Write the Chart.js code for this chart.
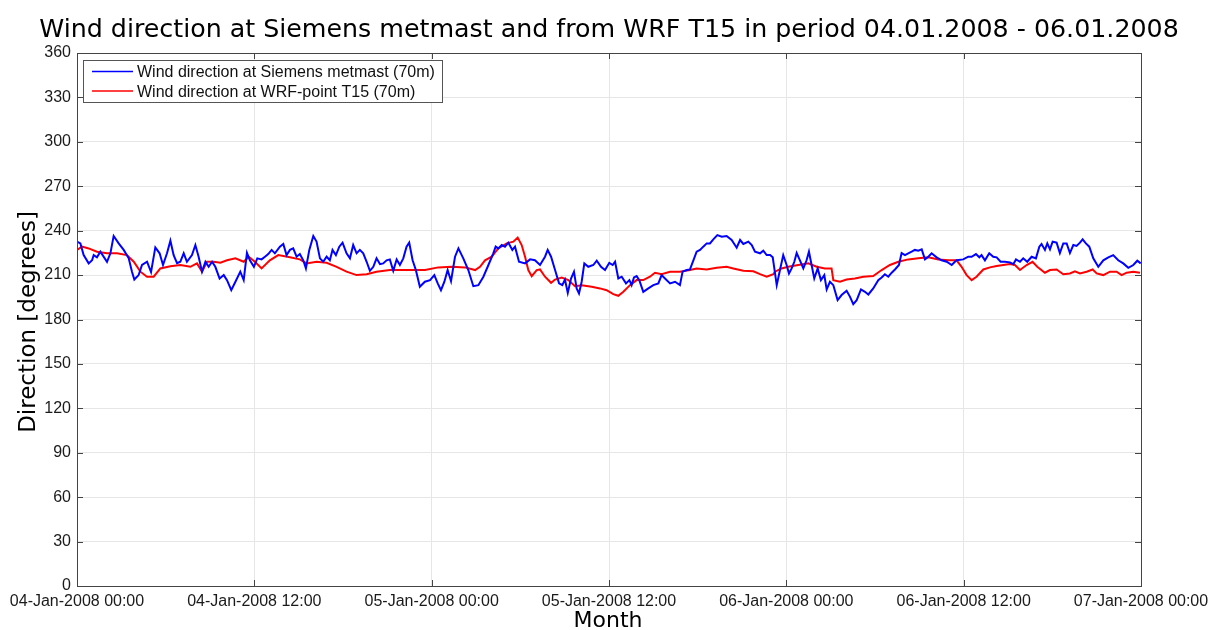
<!DOCTYPE html>
<html>
<head>
<meta charset="utf-8">
<script src="https://cdn.jsdelivr.net/npm/chart.js@4"></script>
<style>
body { margin: 0; background: #fff; }
#wrap { width: 1212px; height: 630px; }
</style>
</head>
<body>
<div id="wrap"><canvas id="chart"></canvas></div>
<script>
// hours since 04-Jan-2008 00:00
const xTickLabels = ['04-Jan-2008 00:00', '04-Jan-2008 12:00', '05-Jan-2008 00:00', '05-Jan-2008 12:00',
                     '06-Jan-2008 00:00', '06-Jan-2008 12:00', '07-Jan-2008 00:00'];
const seriesNames = ['Wind direction at Siemens metmast (70m)', 'Wind direction at WRF-point T15 (70m)'];

const mastHours = [0.00, 0.23, 0.45, 0.79, 1.02, 1.13, 1.35, 1.58, 2.03, 2.26, 2.48, 2.82, 3.16, 3.50, 3.72, 3.88,
  4.17, 4.40, 4.74, 5.01, 5.30, 5.59, 5.82, 6.09, 6.32, 6.54, 6.77, 6.99, 7.22, 7.44, 7.78, 8.01, 8.23, 8.46,
  8.69, 8.91, 9.14, 9.36, 9.65, 9.93, 10.15, 10.44, 10.72, 11.05, 11.28, 11.50,
  11.70, 11.97, 12.20, 12.49, 12.72, 12.94, 13.17, 13.39, 13.73, 13.96, 14.18, 14.41, 14.63, 14.86, 15.08, 15.31,
  15.49, 15.72, 15.99, 16.21, 16.44, 16.66, 16.89, 17.11, 17.29, 17.52, 17.75, 17.97, 18.24, 18.47, 18.69, 18.92,
  19.14, 19.37, 19.60, 19.82, 20.05, 20.27, 20.50, 20.72, 20.95, 21.17, 21.40, 21.63, 21.85, 22.08, 22.30, 22.48,
  22.71, 22.93, 23.20, 23.54,
  23.89, 24.18, 24.41, 24.63, 24.86, 25.08, 25.31, 25.58, 25.81, 26.14, 26.48, 26.82, 27.16, 27.50, 27.84, 28.17,
  28.33, 28.51, 28.74, 28.96, 29.19, 29.46, 29.64, 29.91, 30.32, 30.66, 30.99, 31.33, 31.67, 31.85, 32.08, 32.35,
  32.62, 32.84, 33.02, 33.21, 33.43, 33.63, 33.81, 33.97, 34.15, 34.33, 34.60, 34.94, 35.17, 35.46, 35.73,
  36.02, 36.25, 36.41, 36.63, 36.86, 37.15, 37.38, 37.53, 37.69, 37.87, 38.05, 38.32, 38.66, 39.00, 39.34, 39.56,
  39.79, 40.13, 40.47, 40.80, 40.98, 41.26, 41.48, 41.71, 41.93, 42.16, 42.38, 42.61, 42.83, 43.06, 43.33, 43.63,
  43.96, 44.30, 44.64, 44.87, 45.09, 45.43, 45.66, 45.88, 46.22, 46.44, 46.67, 46.90, 47.08, 47.35,
  47.57, 47.79, 48.02, 48.18, 48.36, 48.54, 48.70, 48.92, 49.15, 49.37, 49.53, 49.71, 49.89, 50.12, 50.34, 50.57,
  50.73, 50.95, 51.18, 51.47, 51.74, 52.08, 52.31, 52.53, 52.76, 53.05, 53.32, 53.55, 53.88, 54.22, 54.45, 54.67,
  54.90, 55.13, 55.35, 55.62, 55.80, 56.03, 56.25, 56.48, 56.70, 56.93, 57.16, 57.38, 57.61, 57.83, 58.17, 58.51,
  58.85, 59.19, 59.41,
  59.52, 59.97, 60.31, 60.54, 60.83, 61.06, 61.21, 61.44, 61.73, 62.00, 62.23, 62.50, 62.79, 63.13, 63.36, 63.54,
  63.81, 64.03, 64.30, 64.60, 64.89, 65.12, 65.27, 65.50, 65.66, 65.84, 66.02, 66.29, 66.51, 66.74, 66.97, 67.19,
  67.42, 67.64, 67.87, 68.05, 68.27, 68.50, 68.77, 69.11, 69.45, 69.79, 70.12, 70.46, 70.80, 71.14, 71.48, 71.75,
  71.98];
const mastDeg = [232.6, 231.4, 223.5, 217.9, 220, 223.5, 222, 225.8, 219, 224.7, 236.4, 231.4, 227, 221.3, 212.3, 207,
  210, 216.8, 219, 212, 228.7, 224.7, 216.8, 224.7, 233.2, 223.5, 218, 219, 224.7, 219, 223.5, 230.3, 222.4, 212.3,
  219, 215.6, 219, 215.6, 207.7, 210, 206.6, 199.8, 205.5, 212.3, 206.6, 225,
  220, 215.6, 221.3, 220.6, 222.4, 224.2, 227, 224.7, 229.2, 231, 223.5, 227, 228, 222.4, 224.2, 220,
  214.5, 227, 236.4, 232.6, 221.3, 219, 222.4, 220, 227, 223.5, 229.2, 231.9, 224.7, 221.3, 230.3, 224.7,
  227, 224.7, 219, 212.9, 215.6, 221.3, 217.4, 217.9, 220, 220.6, 212.9, 220.6, 216.8, 221.3, 229.2, 231.9,
  220, 213.4, 202.1, 205.5,
  206.6, 210, 204.4, 199.8, 205.5, 213.4, 205.9, 222.4, 228, 221.3, 213.4, 202.5, 203.2, 208.9, 216.8, 224.7,
  229.2, 228, 230.3, 229.2, 231.9, 227, 229.2, 219, 217.9, 220.6, 220, 216.8, 222.4, 227, 222.4, 213.4,
  204.4, 203.2, 207, 198, 207.7, 212.3, 201, 197.6, 205.5, 217.9, 215.6, 216.8, 219.7, 215.6, 213.4,
  218.3, 216.8, 219, 207.7, 208.9, 204.4, 206.6, 203.2, 208.4, 209.3, 206.6, 198.7, 201, 203.2, 204.4, 210,
  207.7, 204.4, 205.5, 203.2, 212.3, 213.4, 213.8, 220, 225.8, 227, 229.2, 231.4, 231.4, 234.1, 237, 235.9,
  236.4, 233.7, 228.5, 233.7, 231, 232.6, 230.3, 225.8, 224.7, 226.5, 223.5, 223.5, 222, 203.2,
  213.4, 223.5, 216.8, 211.1, 214.5, 219, 224.9, 220, 214.5, 220, 225.8, 216.8, 207.7, 214.5, 206.6, 210,
  200.3, 205.5, 203.2, 193.1, 196.5, 199.4, 195.3, 190.4, 193.1, 200.3, 198.7, 196.9, 201, 206.6, 208.4, 210.6,
  208.9, 211.6, 213.8, 216.8, 224.9, 223.5, 224.7, 225.8, 227, 226.5, 227.4, 220.6, 222.4, 224.7, 222, 220,
  219, 216.8, 219,
  220, 220.6, 222.4, 222.4, 224.2, 222, 223.5, 220, 224.7, 222.4, 222, 219, 219, 218.6, 217.4, 220.6,
  219, 221.3, 219, 222.4, 221.3, 229.2, 231, 227, 231.4, 227.4, 232.6, 231.9, 224.9, 231.4, 231.4, 224.9,
  230.3, 229.7, 231.9, 234.1, 231.4, 229.2, 221.3, 215.6, 220, 222, 223.5, 220, 217.9, 214.9, 216.8, 219.7,
  217.9];

const wrfHours = [0.00, 0.34, 0.79, 1.35, 2.03, 2.71, 3.38, 3.84, 4.29, 4.74, 5.19, 5.64, 6.32, 6.99, 7.67, 8.12,
  8.46, 8.80, 9.25, 9.70, 10.15, 10.72, 11.28, 11.62,
  12.04, 12.49, 13.05, 13.62, 14.41, 15.08, 15.53, 16.21, 16.89, 17.57, 18.24, 18.92, 19.60, 20.27, 21.17, 22.08,
  22.98, 23.55, 24.45, 25.35, 26.26, 26.94, 27.27, 27.61, 28.06, 28.51, 29.08, 29.53, 29.82, 30.09, 30.32, 30.54,
  30.77, 31.11, 31.33, 31.67, 32.08, 32.35, 32.80, 33.25, 33.70, 34.15, 34.83, 35.39,
  35.84, 36.29, 36.63, 36.97, 37.42, 37.87, 38.32, 38.77, 39.11, 39.56, 40.13, 40.80, 41.48, 41.93, 42.61, 43.29,
  43.96, 44.41, 45.09, 45.77, 46.22, 46.67, 47.12, 47.23, 47.68, 48.13, 48.81, 49.49, 50.05, 50.61, 51.06, 51.18,
  51.63, 52.08, 52.64, 53.21, 53.88, 54.45, 55.01, 55.58, 56.25, 56.93, 57.61, 58.29, 58.96,
  59.52, 59.86, 60.20, 60.54, 60.87, 61.33, 61.78, 62.23, 62.68, 63.13, 63.47, 63.81, 64.26, 64.66, 64.98, 65.50,
  65.84, 66.29, 66.74, 67.19, 67.53, 67.87, 68.32, 68.73, 69.00, 69.45, 69.90, 70.35, 70.69, 71.03, 71.48, 71.93];
const wrfDeg = [227, 229.2, 228, 225.8, 224.7, 224.7, 223.5, 219, 212.3, 208.9, 208.9, 214.5, 216, 216.8, 215.6, 217.9,
  212.3, 219, 219, 218.3, 220, 221.3, 219, 222.4,
  219, 214.5, 220, 223.5, 222, 220.6, 217.9, 219, 218.3, 215.6, 212.3, 210, 210.6, 212.3, 213.4, 213.4,
  213.4, 213.4, 215.2, 215.6, 215.2, 213.4, 215.6, 220, 222.4, 228, 231.4, 232.6, 235.3, 230.3, 222.4, 213.4,
  209.3, 213.4, 213.8, 208.9, 204.8, 207, 208.4, 206.6, 202.5, 203.2, 202.1, 201,
  199.8, 197.1, 196, 198.7, 203.2, 206.6, 206.6, 208.9, 211.6, 210.6, 212.3, 212.3, 213.4, 214.5, 213.8, 214.9,
  215.6, 214.5, 212.9, 212.6, 210.6, 208.9, 210.6, 212.3, 214.5, 215.6, 216.8, 217.9, 215.6, 214.5, 214.5, 206.6,
  205.5, 207, 207.7, 208.9, 209.4, 213.4, 216.8, 219, 220.6, 221.3, 222, 220.6, 220,
  220, 215.6, 210, 206.6, 208.9, 213.8, 215.2, 216.1, 216.8, 217.4, 216.8, 213.4, 216.8, 219, 215.6, 211.6,
  213.4, 213.8, 210.6, 211.1, 212.6, 211.1, 212.3, 213.8, 211.1, 210, 212.3, 212.3, 210, 211.6, 212.3, 211.6];

const chartTitle = 'Wind direction at Siemens metmast and from WRF T15 in period 04.01.2008 - 06.01.2008';
const xTitle = 'Month';
const yTitle = 'Direction [degrees]';

function pairs(xs, ys) {
  return xs.map((x, i) => ({ x: x, y: ys[i] }));
}

// frame, inside ticks, legend box and titles the matlab way
const matlabLook = {
  id: 'matlabLook',
  afterDraw(chart) {
    const ctx = chart.ctx;
    const a = chart.chartArea;
    const xs = chart.scales.x, ys = chart.scales.y;
    ctx.save();

    // box round the axes
    ctx.strokeStyle = '#444';
    ctx.lineWidth = 1;
    ctx.strokeRect(Math.round(a.left) + 0.5, Math.round(a.top) + 0.5,
                   Math.round(a.right - a.left), Math.round(a.bottom - a.top));

    // tick marks inside
    ctx.beginPath();
    ys.ticks.forEach(t => {
      const y = Math.round(ys.getPixelForValue(t.value)) + 0.5;
      ctx.moveTo(a.left, y); ctx.lineTo(a.left + 6, y);
      ctx.moveTo(a.right, y); ctx.lineTo(a.right - 6, y);
    });
    xs.ticks.forEach(t => {
      const x = Math.round(xs.getPixelForValue(t.value)) + 0.5;
      ctx.moveTo(x, a.bottom); ctx.lineTo(x, a.bottom - 6);
      ctx.moveTo(x, a.top); ctx.lineTo(x, a.top + 6);
    });
    ctx.stroke();

    // legend
    const lx = 83.5, ly = 60.5;
    ctx.fillStyle = '#fff';
    ctx.fillRect(lx, ly, 359, 42);
    ctx.strokeStyle = '#555';
    ctx.strokeRect(lx, ly, 359, 42);
    ctx.font = '16px "Liberation Sans", Arial, sans-serif';
    ctx.textBaseline = 'alphabetic';
    ctx.textAlign = 'left';
    chart.data.datasets.forEach((ds, i) => {
      const yy = 71.5 + i * 19.5;
      ctx.strokeStyle = ds.borderColor;
      ctx.lineWidth = 1.5;
      ctx.beginPath();
      ctx.moveTo(92, yy); ctx.lineTo(133, yy);
      ctx.stroke();
      ctx.fillStyle = '#111';
      ctx.fillText(ds.label, 137, yy + 5.8);
    });

    // main title, fitted to the width of the original
    ctx.fillStyle = '#000';
    ctx.textAlign = 'center';
    let size = 24;
    ctx.font = size + 'px "DejaVu Sans", sans-serif';
    size = size * 1138 / ctx.measureText(chartTitle).width;
    ctx.font = size.toFixed(1) + 'px "DejaVu Sans", sans-serif';
    ctx.fillText(chartTitle, 609, 37);

    // axis titles
    ctx.font = '22px "DejaVu Sans", sans-serif';
    ctx.fillText(xTitle, 608, 627);
    ctx.translate(35, 322);
    ctx.rotate(-Math.PI / 2);
    ctx.font = '23px "DejaVu Sans", sans-serif';
    ctx.fillText(yTitle, 0, 0);

    ctx.restore();
  }
};

const tickFont = { family: '"Liberation Sans", Arial, sans-serif', size: 16 };

new Chart(document.getElementById('chart'), {
  type: 'line',
  data: {
    datasets: [
      { label: seriesNames[0], data: pairs(mastHours, mastDeg), borderColor: '#0000ff', borderWidth: 2 },
      { label: seriesNames[1], data: pairs(wrfHours, wrfDeg), borderColor: '#ff0000', borderWidth: 2 }
    ]
  },
  options: {
    responsive: true,
    maintainAspectRatio: false,
    animation: false,
    elements: { point: { radius: 0 }, line: { tension: 0, fill: false } },
    layout: { padding: { top: 53, right: 71, left: 0, bottom: 0 } },
    plugins: { legend: { display: false }, title: { display: false }, tooltip: { enabled: false } },
    scales: {
      x: {
        type: 'linear', min: 0, max: 72,
        ticks: {
          stepSize: 12, autoSkip: false, maxRotation: 0, padding: 6,
          font: tickFont, color: '#1a1a1a',
          callback: v => xTickLabels[Math.round(v / 12)]
        },
        grid: { color: '#e6e6e6', drawTicks: false },
        border: { display: false },
        afterFit: s => { s.height = 44; s.paddingLeft = 0; s.paddingRight = 0; }
      },
      y: {
        min: 0, max: 360,
        ticks: { stepSize: 30, padding: 6, font: tickFont, color: '#1a1a1a' },
        grid: { color: '#e6e6e6', drawTicks: false },
        border: { display: false },
        afterFit: s => { s.width = 77; s.paddingTop = 0; s.paddingBottom = 0; }
      }
    }
  },
  plugins: [matlabLook]
});
</script>
</body>
</html>
